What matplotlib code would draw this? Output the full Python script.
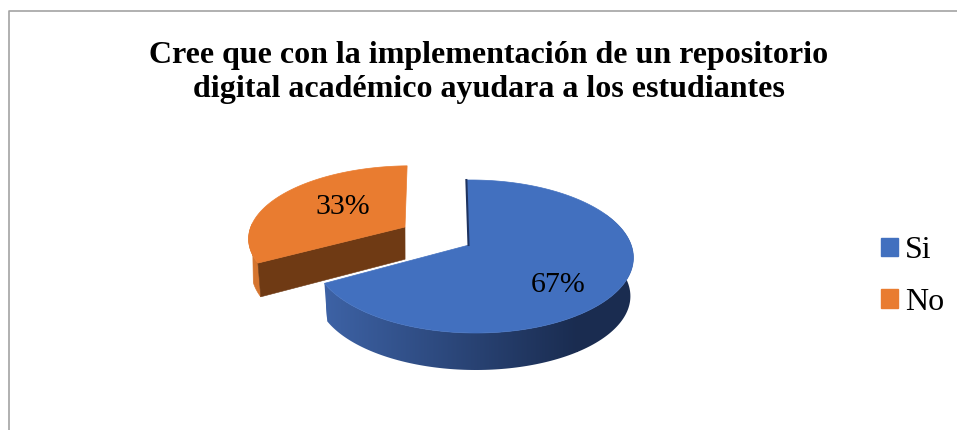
# recreate: 3D-look exploded pie, Si / No
import numpy as np
import matplotlib
matplotlib.use("Agg")
import matplotlib.pyplot as plt
from matplotlib.colors import LinearSegmentedColormap
from matplotlib.patches import Polygon

plt.rcParams["font.family"] = ["Liberation Serif", "DejaVu Serif"]

TITLE = "Cree que con la implementación de un repositorio\ndigital académico ayudara a los estudiantes"
labels = ["Si", "No"]
values = [67, 33]
colors = ["#4270BF", "#E97C30"]

W, H = 957, 430

# apex sits off the ellipse centre, that is the perspective look (unit-disk coords)
APEX = np.array([-0.025, 0.15])


def rim(theta):
    d = np.array([np.cos(theta), np.sin(theta)])
    b = APEX @ d
    s = -b + np.sqrt(b * b - APEX @ APEX + 1)
    return APEX + s * d


def screen(p, ell):
    cx, cy, a, b, shear = ell
    return (cx + a * p[0] + shear * (p[1] - APEX[1]), cy - b * p[1])


# ellipses in pixels: cx, cy, semi-x, semi-y, shear
blue_top = (473, 256.5, 160, 76.5, -2.5)
blue_bot = (473, 295, 157, 75, -2.5)
orange_top = (409, 237.8, 160, 72, 2.5)
orange_bot = (409, 270.5, 157, 75, 2.5)

fig = plt.figure(figsize=(W / 100, H / 100), dpi=100)
ax = fig.add_axes([0, 0, 1, 1])
ax.axis("off")

# chart frame, only left and top edges show
ax.plot([8.5, 8.5, W], [H, 10.5, 10.5], color="#A3A3A3", lw=1.2, zorder=1)

total = sum(values)
start = np.pi / 2
sweep_si = 2 * np.pi * values[0] / total
tip = start - sweep_si

# Si wall, horizontal gradient clipped to the wall outline
thetas = np.linspace(tip, np.radians(25), 160)
wall = [screen(rim(t), blue_top) for t in thetas] + [screen(rim(t), blue_bot) for t in thetas[::-1]]
wall_patch = Polygon(wall, closed=True, fc="none", ec="none", zorder=2)
ax.add_patch(wall_patch)
cmap = LinearSegmentedColormap.from_list("si_wall", ["#3D62A5", "#1A2C50"])
grad = np.linspace(0, 1, 256).reshape(1, -1)
im = ax.imshow(grad, cmap=cmap, extent=(326, 578, 400, 200), aspect="auto", zorder=2)
# keep the end colours past both ends of the gradient
ax.add_patch(Polygon([(577, 200), (640, 200), (640, 400), (577, 400)], closed=True, fc="#1A2C50", ec="none",
                     zorder=2, clip_path=wall_patch))
ax.add_patch(Polygon([(316, 200), (327, 200), (327, 400), (316, 400)], closed=True, fc="#3D62A5", ec="none",
                     zorder=2, clip_path=wall_patch))
im.set_clip_path(wall_patch)

# Si top face
arc = np.linspace(start, tip, 200)
pts = [screen(APEX, blue_top)] + [screen(rim(t), blue_top) for t in arc]
ax.add_patch(Polygon(pts, closed=True, fc=colors[0], ec=colors[0], lw=0.5, zorder=3))
ax.plot([pts[1][0] - 0.5, pts[0][0] - 0.5], [pts[1][1], pts[0][1]], color="#1E3360", lw=1.5, zorder=3)

# No walls
tip_xy = rim(tip)
thetas = np.linspace(tip + 2 * np.pi, np.pi - 0.05, 40)
bot_thetas = np.linspace(np.radians(198), tip + 2 * np.pi, 12)
q = [screen(rim(t), orange_top) for t in thetas] + [screen(rim(t), orange_bot) for t in bot_thetas]
ax.add_patch(Polygon(q, closed=True, fc="#D5752F", ec="#D5752F", lw=0.4, zorder=4))
q = [screen(APEX, orange_top), screen(tip_xy, orange_top), screen(tip_xy, orange_bot), screen(APEX, orange_bot)]
ax.add_patch(Polygon(q, closed=True, fc="#6F3A14", ec="#6F3A14", lw=0.4, zorder=5))

# No top face
arc = np.linspace(start, tip + 2 * np.pi, 120)
pts = [screen(APEX, orange_top)] + [screen(rim(t), orange_top) for t in arc]
ax.add_patch(Polygon(pts, closed=True, fc=colors[1], ec=colors[1], lw=0.5, zorder=6))

ax.text(558, 285, f"{values[0]}%", fontsize=21.5, ha="center", va="center", color="black", zorder=7)
ax.text(343, 207, f"{values[1]}%", fontsize=21.5, ha="center", va="center", color="black", zorder=7)

ax.set_xlim(0, W)
ax.set_ylim(H, 0)

fig.text(489 / W, 1 - 72.5 / H, TITLE, fontsize=23, fontweight="bold", ha="center", va="center", linespacing=1.25)

handles = [Polygon([[0, 0]], fc=c, ec=c) for c in colors]
fig.legend(handles, labels, loc="center left", bbox_to_anchor=(852 / W, 1 - 276.5 / H), frameon=False,
           fontsize=23, handlelength=0.53, handleheight=0.53, handletextpad=0.22, labelspacing=0.7)

fig.savefig("out.png", dpi=100)
